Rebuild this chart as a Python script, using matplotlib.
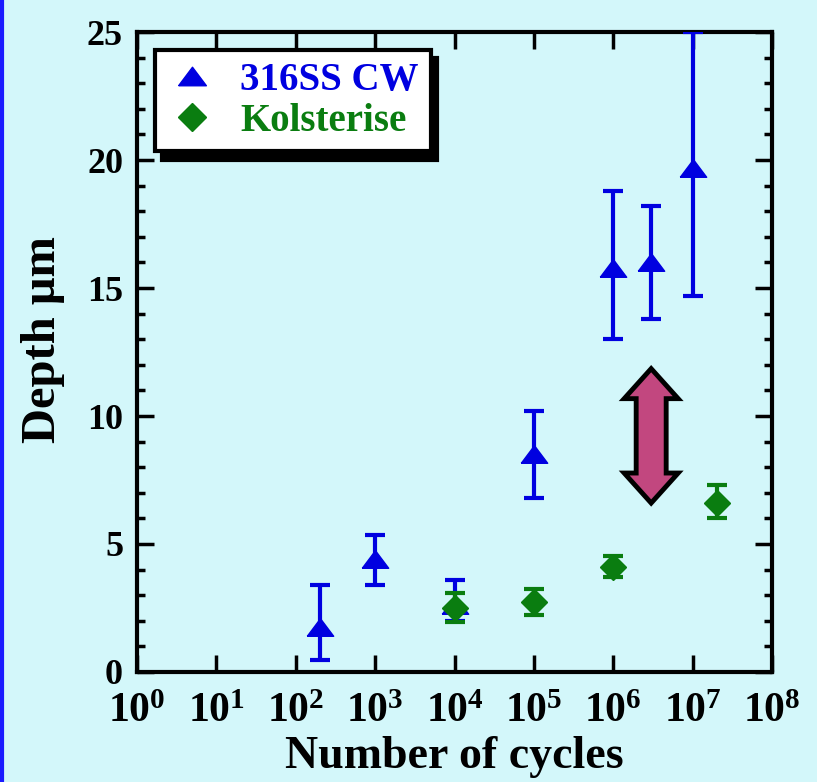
import matplotlib
matplotlib.use("Agg")
import matplotlib.pyplot as plt
from matplotlib.patches import Polygon
from matplotlib.lines import Line2D
from matplotlib.ticker import LogLocator, MultipleLocator, FixedLocator, NullFormatter
import numpy as np

# ---- data ----
ss_cycles = [200, 1000, 1e4, 1e5, 1e6, 3e6, 1e7]
ss_depth = [1.75, 4.4, 2.6, 8.5, 15.8, 16.0, 19.7]
ss_err_lo = [1.3, 1.0, 0.6, 1.7, 2.8, 2.2, 5.0]
ss_err_hi = [1.65, 0.95, 1.0, 1.7, 3.0, 2.2, 5.3]

ko_cycles = [1e4, 1e5, 1e6, 2e7]
ko_depth = [2.5, 2.73, 4.1, 6.6]
ko_err_lo = [0.55, 0.5, 0.4, 0.6]
ko_err_hi = [0.6, 0.5, 0.45, 0.7]

arrow_x = 3e6
arrow_y_top = 11.85
arrow_y_bottom = 6.6

xtick_exps = [0, 1, 2, 3, 4, 5, 6, 7, 8]
yticks = [0, 5, 10, 15, 20, 25]

bg = '#d3f7fa'
blue = '#0000e0'
green = '#0a7d10'
plt.rcParams['font.family'] = ['Liberation Serif', 'DejaVu Serif']
plt.rcParams['font.weight'] = 'bold'
plt.rcParams['mathtext.fontset'] = 'custom'
plt.rcParams['mathtext.rm'] = 'Liberation Serif:bold'
plt.rcParams['mathtext.it'] = 'Liberation Serif:bold'
plt.rcParams['mathtext.bf'] = 'Liberation Serif:bold'

tri = [(-0.75, -0.5), (0.75, -0.5), (0.0, 0.5), (-0.75, -0.5)]

fig = plt.figure(figsize=(8.17, 7.82), dpi=100, facecolor=bg)
ax = fig.add_axes([0.1677, 0.1407, 0.7773, 0.8183])
ax.set_facecolor(bg)

ax.set_xscale('log')
ax.set_xlim(1, 1e8)
ax.set_ylim(0, 25)

ax.errorbar(ss_cycles, ss_depth, yerr=[ss_err_lo, ss_err_hi], fmt='none', ecolor=blue,
            capsize=7, capthick=3, elinewidth=3, zorder=3)
ax.plot(ss_cycles, ss_depth, ls='none', marker=tri, ms=19, color=blue, mec=blue, zorder=3.5)
ax.errorbar(ko_cycles, ko_depth, yerr=[ko_err_lo, ko_err_hi], fmt='D', color=green,
            ms=13, mec=green, capsize=7, capthick=3, elinewidth=3, zorder=4)

# ticks
ax.xaxis.set_major_locator(FixedLocator([10.0**e for e in xtick_exps]))
ax.xaxis.set_minor_locator(LogLocator(base=10, subs=np.arange(2, 10)))
ax.xaxis.set_minor_formatter(NullFormatter())
ax.set_xticklabels([r'$10^{%d}$' % e for e in xtick_exps])
ax.set_yticks(yticks)
ax.yaxis.set_minor_locator(MultipleLocator(1))
ax.tick_params(which='both', direction='in', top=True, right=True, width=2.5)
ax.tick_params(which='major', length=12, labelsize=26, pad=10)
ax.tick_params(which='minor', length=6)
ax.tick_params(axis='x', which='major', pad=15, labelsize=30)
for s in ax.spines.values():
    s.set_linewidth(3)

ax.set_xlabel('Number of cycles', fontsize=33, fontweight='bold', labelpad=4)
ax.set_ylabel('Depth μm', fontsize=35, fontweight='bold', labelpad=16)
ax.yaxis.label.set_y(0.52)

# legend
handles = [Line2D([], [], ls='none', marker=tri, ms=20, color=blue),
           Line2D([], [], ls='none', marker='D', ms=14, color=green)]
leg = ax.legend(handles, ['316SS CW', 'Kolsterise'], loc='upper left',
                bbox_to_anchor=(0.028, 0.972), fontsize=28,
                frameon=True, fancybox=False, shadow={'ox': 5, 'oy': -6, 'color': 'black', 'alpha': 1},
                handletextpad=0.6, borderpad=0.3, handlelength=1.3, labelspacing=0.1,
                borderaxespad=0)
leg.get_frame().set_edgecolor('black')
leg.get_frame().set_linewidth(3)
leg.get_frame().set_facecolor('white')
leg.get_frame().set_alpha(1)
for t, c in zip(leg.get_texts(), [blue, green]):
    t.set_color(c)

# double arrow (built in display pixels around the data endpoints)
fig.canvas.draw()
xt, yt = ax.transData.transform((arrow_x, arrow_y_top))
xb, yb = ax.transData.transform((arrow_x, arrow_y_bottom))
hw, bw, hl = 27, 15, 30
verts_px = [
    (xt, yt), (xt + hw, yt - hl), (xt + bw, yt - hl), (xt + bw, yb + hl), (xt + hw, yb + hl),
    (xb, yb), (xb - hw, yb + hl), (xb - bw, yb + hl), (xb - bw, yt - hl), (xt - hw, yt - hl),
]
verts = ax.transData.inverted().transform(verts_px)
ax.add_patch(Polygon(verts, closed=True, facecolor='#c2477f', edgecolor='black', lw=3.5,
                     joinstyle='miter', zorder=5))

# left blue border
fig.add_artist(Line2D([0.002, 0.002], [0, 1], transform=fig.transFigure, color='#1a1aff', lw=3))

fig.savefig('out.png', dpi=100, facecolor=bg)
